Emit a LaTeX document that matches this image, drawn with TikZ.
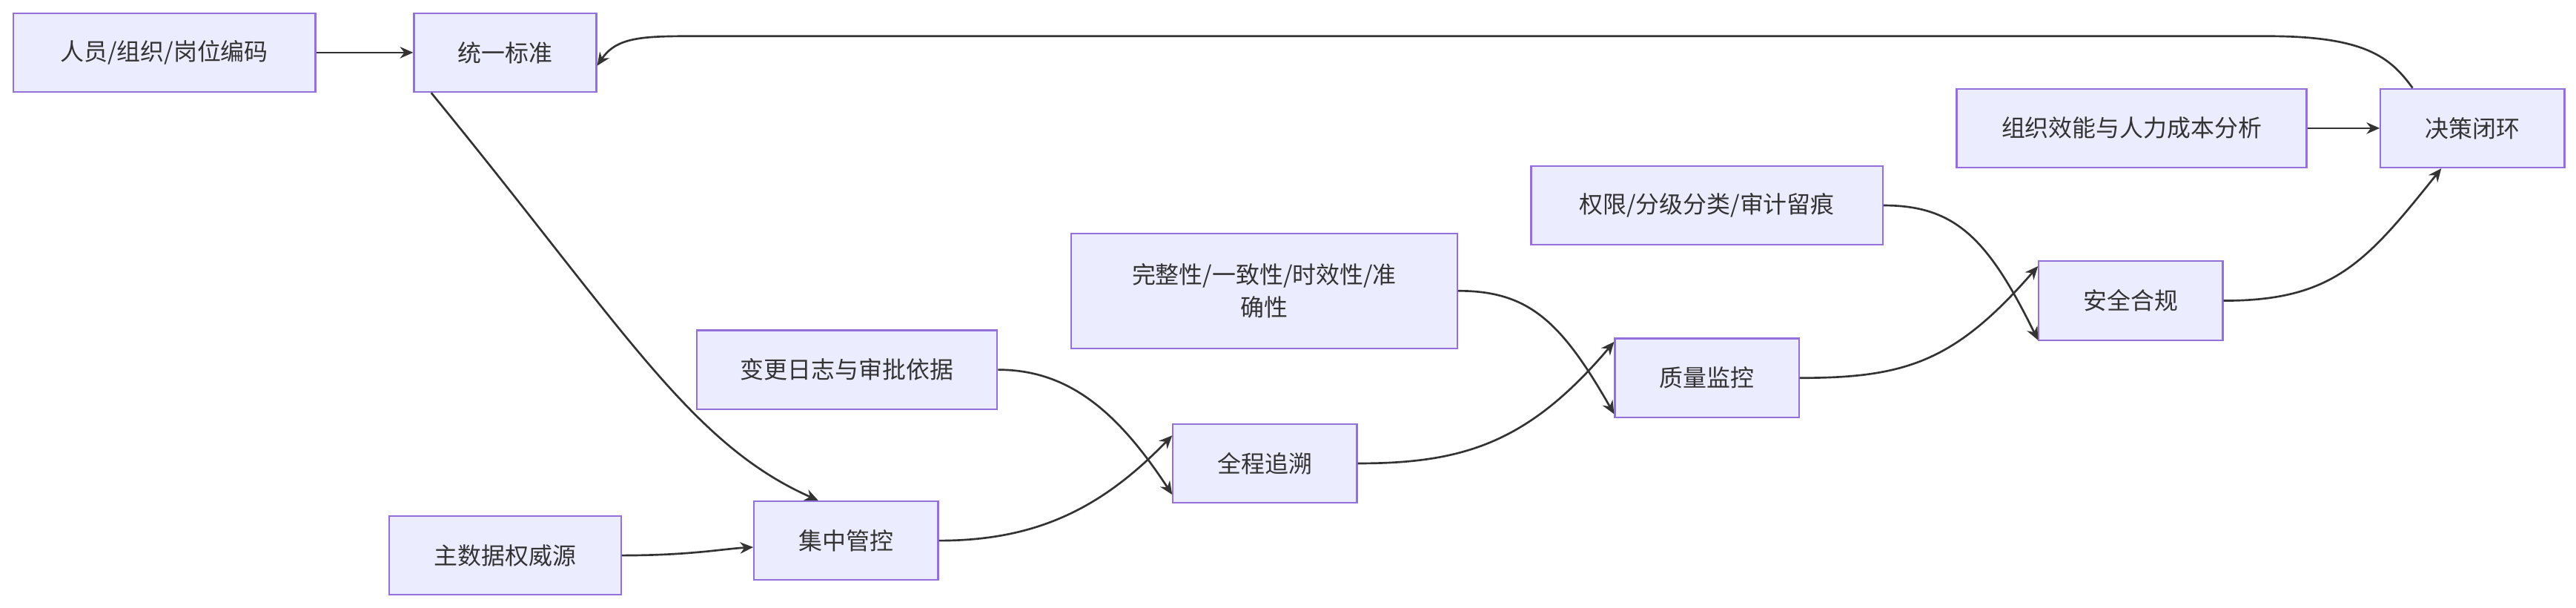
\documentclass[tikz,border=0pt]{standalone}
\usepackage{fontspec}
\newfontfamily\cjk{Noto Sans CJK SC}
\usetikzlibrary{arrows.meta}
\definecolor{nfill}{HTML}{ECECFF}
\definecolor{nborder}{HTML}{9370DB}
\definecolor{edge}{HTML}{333333}
\begin{document}
\begin{tikzpicture}[x=0.5pt,y=-0.5pt,
  box/.style={draw=nborder,fill=nfill,line width=0.5pt,inner sep=0pt,font=\cjk\fontsize{7.2}{10}\selectfont,text=edge,align=center},
  arr/.style={draw=edge,line width=0.6pt,-{Stealth[length=4pt,width=3.5pt]}}]
\useasboundingbox (0,0) rectangle (1568,370);
\fill[white] (0,0) rectangle (1568,370);
\def\bx#1#2#3#4#5#6{\node[box,minimum width=(#4-#2)*0.5pt,minimum height=(#5-#3)*0.5pt] (#1) at ({(#2+#4)/2},{(#3+#5)/2}) {#6};}
\bx{a}{8}{8}{192}{56}{人员/组织/岗位编码}
\bx{b}{252}{8}{363}{56}{统一标准}
\bx{c}{1191}{54}{1404}{102}{组织效能与人力成本分析}
\bx{d}{1449}{54}{1561}{102}{决策闭环}
\bx{e}{932}{101}{1146}{149}{权限/分级分类/审计留痕}
\bx{f}{652}{142}{887}{212}{完整性/一致性/时效性/准\\确性}
\bx{g}{1241}{159}{1353}{207}{安全合规}
\bx{h}{424}{201}{607}{249}{变更日志与审批依据}
\bx{i}{983}{206}{1095}{254}{质量监控}
\bx{j}{714}{258}{826}{306}{全程追溯}
\bx{k}{237}{314}{378}{362}{主数据权威源}
\bx{l}{459}{305}{571}{353}{集中管控}
\draw[arr] (a.east) -- (b.east -| b.west);
\draw[arr] ([xshift=20pt*0.5]d.north west) .. controls (1455,35) and (1440,22) .. (1380,22) -- (420,22) .. controls (390,22) and (375,23) .. ([yshift=-8pt*0.5]b.east);
\draw[arr] ([xshift=-45pt*0.5]b.south) .. controls (380,200) and (420,270) .. ([xshift=-17pt*0.5]l.north);
\draw[arr] (k.east) .. controls (420,338) and (440,334) .. ([yshift=-4pt*0.5]l.west);
\draw[arr] (l.east) .. controls (630,329) and (670,310) .. ([yshift=17pt*0.5]j.west);
\draw[arr] (h.east) .. controls (650,225) and (680,250) .. ([yshift=-19pt*0.5]j.west);
\draw[arr] (j.east) .. controls (890,282) and (930,270) .. ([yshift=22pt*0.5]i.west);
\draw[arr] (f.east) .. controls (930,177) and (950,195) .. ([yshift=-22pt*0.5]i.west);
\draw[arr] (i.east) .. controls (1160,230) and (1190,220) .. ([yshift=21pt*0.5]g.west);
\draw[arr] (e.east) .. controls (1190,125) and (1210,145) .. ([yshift=-24pt*0.5]g.west);
\draw[arr] (g.east) .. controls (1420,183) and (1440,160) .. ([xshift=-19pt*0.5]d.south);
\draw[arr] (c.east) -- (d.west);
\end{tikzpicture}
\end{document}
